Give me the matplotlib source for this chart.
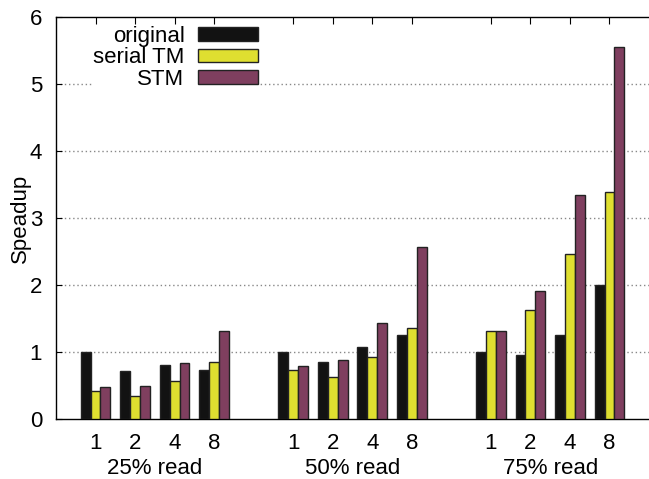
import matplotlib
matplotlib.use("Agg")
import matplotlib.pyplot as plt
from matplotlib.transforms import blended_transform_factory

plt.rcParams['font.family'] = ['Liberation Sans', 'DejaVu Sans']

groups = ["25% read", "50% read", "75% read"]
threads = ["1", "2", "4", "8"]
series = ["original", "serial TM", "STM"]
original = [[1.00, 0.71, 0.81, 0.73],
            [1.00, 0.85, 1.07, 1.26],
            [1.00, 0.95, 1.25, 2.00]]
serial_tm = [[0.42, 0.35, 0.56, 0.85],
             [0.73, 0.62, 0.92, 1.36],
             [1.31, 1.62, 2.47, 3.39]]
stm = [[0.48, 0.49, 0.84, 1.32],
       [0.79, 0.88, 1.44, 2.56],
       [1.32, 1.91, 3.34, 5.55]]
colors = ["#121212", "#dfdf30", "#7f3f5f"]

fs = 16
fig = plt.figure(figsize=(6.49, 4.79), dpi=100)
ax = fig.add_axes([56/649, 60/479, 593/649, 402/479])

w = 0.25
xs = []
for g in range(len(groups)):
    for i in range(len(threads)):
        xs.append(g * 5 + i)

data = [original, serial_tm, stm]
for k, name in enumerate(series):
    vals = [v for row in data[k] for v in row]
    ax.bar([x + (k - 1) * w for x in xs], vals, w, color=colors[k],
           edgecolor="#222222", linewidth=1.0, label=name, zorder=3)

ax.set_xlim(-1, 14)
ax.set_ylim(0, 6)
ax.set_xticks(xs)
ax.set_xticklabels(threads * len(groups), fontsize=fs)
ax.set_yticks(range(7))
ax.tick_params(axis='y', labelsize=fs, direction='in', length=4, pad=10)
ax.tick_params(axis='x', direction='in', length=5, top=True, pad=10)
ax.set_ylabel("Speadup", fontsize=fs, labelpad=-1)

ax.spines['right'].set_visible(False)
for s in ['left', 'top', 'bottom']:
    ax.spines[s].set_linewidth(1.0)

for y in range(1, 6):
    ax.axhline(y, color="#888888", linestyle=(0, (1, 2)), linewidth=1.0, zorder=1)

trans = blended_transform_factory(ax.transData, ax.transAxes)
for g, name in enumerate(groups):
    ax.text(g * 5 + 1.5, -0.098, name, transform=trans, ha='center', va='top', fontsize=fs)

leg = ax.legend(loc='upper left', bbox_to_anchor=(0.042, 1.008), fontsize=fs,
                frameon=True, markerfirst=False, handlelength=2.7, handleheight=0.55,
                labelspacing=0.02, borderpad=0.05, handletextpad=0.6)
leg.get_frame().set_edgecolor('none')
leg.get_frame().set_facecolor('white')
leg.get_frame().set_alpha(1.0)
for t in leg.get_texts():
    t.set_ha('right')
leg._legend_box.align = "right"
leg.set_zorder(2)

fig.savefig("out.png", dpi=100)
